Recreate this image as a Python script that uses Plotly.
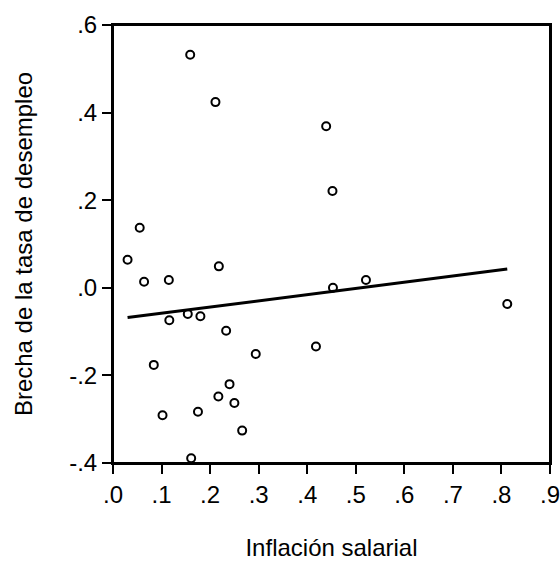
import plotly.graph_objects as go

# Data
inflacion_salarial = [0.159, 0.211, 0.439, 0.452, 0.055, 0.030, 0.064, 0.115, 0.218,
                      0.453, 0.521, 0.812, 0.116, 0.154, 0.180, 0.233, 0.294, 0.418,
                      0.084, 0.240, 0.217, 0.250, 0.102, 0.175, 0.266, 0.161]
brecha_desempleo = [0.532, 0.424, 0.369, 0.221, 0.137, 0.064, 0.014, 0.018, 0.049,
                    0.000, 0.018, -0.037, -0.074, -0.060, -0.065, -0.098, -0.151, -0.134,
                    -0.176, -0.220, -0.248, -0.263, -0.291, -0.283, -0.326, -0.389]
fit_x = [0.030, 0.812]
fit_y = [-0.068, 0.043]

x_tickvals = [0.0, 0.1, 0.2, 0.3, 0.4, 0.5, 0.6, 0.7, 0.8, 0.9]
x_ticktext = [".0", ".1", ".2", ".3", ".4", ".5", ".6", ".7", ".8", ".9"]
y_tickvals = [-0.4, -0.2, 0.0, 0.2, 0.4, 0.6]
y_ticktext = ["-.4", "-.2", ".0", ".2", ".4", ".6"]

fig = go.Figure()
fig.add_trace(go.Scatter(
    x=inflacion_salarial, y=brecha_desempleo, mode="markers",
    marker=dict(symbol="circle-open", size=8, color="black", line=dict(width=2, color="black")),
    showlegend=False, hoverinfo="x+y"))
fig.add_trace(go.Scatter(
    x=fit_x, y=fit_y, mode="lines",
    line=dict(color="black", width=3), showlegend=False))

font = dict(family="Liberation Sans, Arial, sans-serif", size=24, color="black")
fig.update_layout(
    width=560, height=561,
    margin=dict(l=113, r=10, t=25, b=98, autoexpand=False),
    paper_bgcolor="white", plot_bgcolor="white",
    font=font,
    xaxis=dict(range=[0, 0.9], tickvals=x_tickvals, ticktext=x_ticktext,
               ticks="outside", ticklen=9, tickwidth=1.5, tickcolor="black",
               showline=True, linewidth=2, linecolor="black", mirror=True,
               ticklabeloverflow="allow",
               showgrid=False, zeroline=False, automargin=False, tickfont=font,
               title=dict(text="Inflación salarial", standoff=48, font=font)),
    yaxis=dict(range=[-0.4, 0.6], tickvals=y_tickvals, ticktext=y_ticktext,
               ticks="outside", ticklen=9, tickwidth=1.5, tickcolor="black",
               showline=True, linewidth=2, linecolor="black", mirror=True,
               ticklabeloverflow="allow",
               showgrid=False, zeroline=False, automargin=False, tickfont=font,
               title=dict(text="Brecha de la tasa de desempleo", standoff=30, font=font)),
    xaxis2=dict(overlaying="x", side="top", matches="x", showline=True, linewidth=2,
                linecolor="black", showticklabels=False, ticks="", showgrid=False,
                zeroline=False, automargin=False),
    yaxis2=dict(overlaying="y", side="right", matches="y", showline=True, linewidth=2,
                linecolor="black", showticklabels=False, ticks="", showgrid=False,
                zeroline=False, automargin=False),
    shapes=[dict(type="rect", xref="paper", yref="paper", x0=0, y0=0, x1=1, y1=1,
                 line=dict(color="black", width=2), fillcolor="rgba(0,0,0,0)", layer="above")],
)
# invisible helper trace so the top/right frame axes are drawn
fig.add_trace(go.Scatter(x=fit_x, y=fit_y, xaxis="x2", yaxis="y2", mode="lines",
                         line=dict(width=0, color="rgba(0,0,0,0)"), showlegend=False,
                         hoverinfo="skip"))

fig.write_html(
    "out.html",
    config={"displayModeBar": False},
    post_script="document.body.style.margin='0';document.body.style.overflow='hidden';",
)
